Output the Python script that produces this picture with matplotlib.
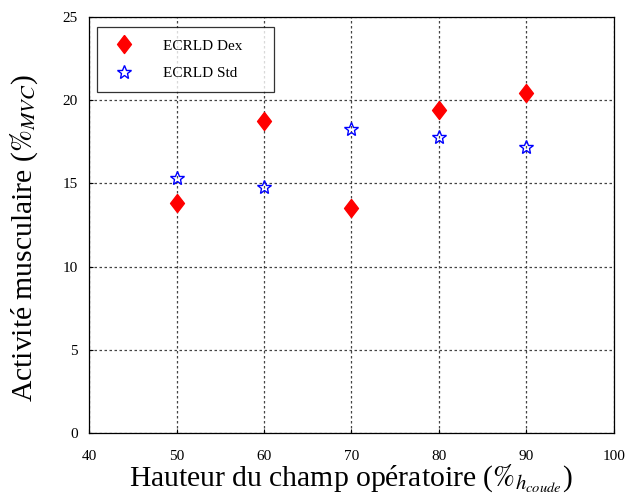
import matplotlib
matplotlib.use("Agg")
import matplotlib.pyplot as plt

heights = [50, 60, 70, 80, 90]
ecrld_dex = [13.8, 18.75, 13.5, 19.4, 20.45]
ecrld_std = [15.35, 14.8, 18.25, 17.8, 17.2]
x_ticks = [40, 50, 60, 70, 80, 90, 100]
y_ticks = [0, 5, 10, 15, 20, 25]

plt.rcParams["font.family"] = "Liberation Serif"
plt.rcParams["mathtext.fontset"] = "stix"

# wide diamond like the original figure
diamond = [(0, 1), (0.77, 0), (0, -1), (-0.77, 0), (0, 1)]

fig = plt.figure(figsize=(6.27, 4.95), dpi=100)
ax = fig.add_axes([0.142, 0.125, 0.837, 0.841])

ax.plot(heights, ecrld_dex, linestyle="none", marker=diamond, markersize=13,
        color="red", markeredgecolor="red", label="ECRLD Dex")
ax.plot(heights, ecrld_std, linestyle="none", marker="*", markersize=10,
        markerfacecolor="none", markeredgecolor="blue", markeredgewidth=1.0,
        label="ECRLD Std")

ax.set_xlim(40, 100)
ax.set_ylim(0, 25)
ax.set_xticks(x_ticks)
ax.set_yticks(y_ticks)
ax.tick_params(direction="in", labelsize=11, length=3)
ax.tick_params(axis="x", pad=12)
ax.tick_params(axis="y", pad=8)
ax.grid(True, linestyle=(0, (2, 2)), color="#444444", linewidth=0.9)
for s in ax.spines.values():
    s.set_linewidth(0.9)

ax.set_xlabel(r"Hauteur du champ opératoire ($\%_{h_{coude}}$)", fontsize=21.3, labelpad=0)
ax.set_ylabel(r"Activité musculaire ($\%_{MVC}$)", fontsize=21.3)
ax.yaxis.set_label_coords(-0.094, 0.47)

leg = ax.legend(loc="upper left", bbox_to_anchor=(0.015, 0.844, 0.337, 0.132),
                mode="expand", borderaxespad=0, fontsize=11, frameon=True,
                fancybox=False, edgecolor="black", borderpad=0.8,
                labelspacing=0.9, handletextpad=1.5)
leg.get_frame().set_linewidth(0.9)

fig.savefig("out.png", dpi=100)
